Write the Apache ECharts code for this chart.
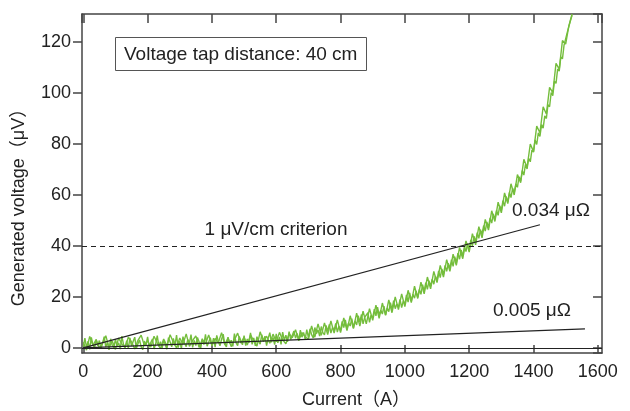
<!DOCTYPE html>
<html>
<head>
<meta charset="utf-8">
<script src="https://cdn.jsdelivr.net/npm/echarts@6/dist/echarts.min.js"></script>
<style>
  html, body { margin: 0; padding: 0; background: #fff; }
  #main { width: 630px; height: 411px; }
</style>
</head>
<body>
<div id="main"></div>
<script>
// measured voltage (uV), sweep 1: one reading every 5 A starting at 0 A
const stepA = 5;
const voltageA = [
  0.5, 3.8, 0.2, 2.6, -0.6, 4.1, 1.2, 0.0, 3.2, 0.8,
  2.9, -0.4, 1.8, 4.4, 0.3, 2.2, -0.8, 3.6, 1.0, 0.1,
  3.4, 0.6, 2.0, -0.5, 4.6, 1.4, 0.2, 2.8, -0.3, 3.9,
  0.7, 2.5, 4.2, -0.2, 1.6, 3.1, 0.4, -0.7, 2.7, 1.1,
  4.3, 0.2, 2.1, 3.5, -0.4, 1.5, 4.8, 0.6, 2.4, -0.1,
  3.0, 1.2, -0.5, 4.0, 2.3, 0.4, 3.7, 1.0, 5.0, 0.1,
  2.6, -0.3, 4.4, 1.8, 0.5, 3.3, 2.0, 5.2, 0.2, 2.9,
  0.9, 4.1, 2.4, -0.2, 3.6, 1.3, 5.3, 0.7, 2.2, 4.0,
  1.0, 3.8, 0.3, 4.9, 2.5, 0.8, 3.4, 5.4, 1.5, 0.4,
  4.2, 1.7, 3.0, 0.6, 5.6, 2.1, 0.9, 4.5, 2.8, 1.2,
  4.8, 0.9, 3.5, 2.0, 5.9, 1.4, 3.9, 0.8, 4.4, 2.6,
  1.5, 5.2, 2.7, 4.6, 0.9, 3.8, 6.0, 2.2, 4.1, 1.3,
  5.5, 2.0, 4.3, 1.4, 6.2, 3.0, 5.0, 2.4, 6.4, 3.3,
  2.6, 6.6, 3.8, 5.7, 2.9, 7.0, 4.2, 6.1, 3.4, 7.2,
  4.0, 7.5, 5.2, 3.9, 8.0, 5.6, 7.1, 4.6, 8.4, 6.0,
  5.1, 8.8, 6.5, 9.2, 5.8, 8.0, 6.9, 9.6, 6.2, 8.5,
  6.8, 10.4, 8.0, 11.0, 7.4, 9.8, 8.6, 11.5, 7.9, 10.6,
  9.0, 12.6, 10.2, 13.1, 9.4, 12.0, 11.3, 13.8, 10.0, 12.9,
  11.8, 15.2, 12.6, 16.0, 12.9, 14.8, 13.3, 16.4, 13.0, 15.6,
  14.2, 17.8, 15.0, 18.5, 15.4, 17.2, 16.0, 19.0, 15.8, 18.4,
  17.2, 20.8, 18.0, 21.6, 18.4, 21.0, 19.5, 22.4, 19.8, 23.0,
  21.0, 24.8, 22.2, 25.6, 23.0, 26.4, 24.2, 27.0, 25.0, 28.2,
  26.4, 30.2, 27.6, 31.0, 28.8, 32.4, 30.0, 33.2, 31.2, 34.6,
  32.0, 35.8, 33.4, 37.2, 34.8, 38.4, 36.0, 39.6, 37.8, 41.0,
  38.6, 42.4, 40.0, 43.8, 41.6, 45.2, 43.0, 46.4, 44.6, 48.0,
  45.8, 49.4, 47.2, 51.0, 49.0, 52.6, 50.4, 54.0, 52.0, 55.8,
  54.0, 57.8, 55.6, 59.4, 57.2, 61.0, 59.0, 62.6, 60.8, 64.4,
  63.0, 67.2, 65.4, 69.6, 67.8, 72.0, 70.2, 74.4, 73.0, 77.6,
  76.8, 81.6, 79.8, 84.4, 83.0, 87.6, 86.2, 91.0, 90.0, 95.4,
  94.6, 100.2, 99.0, 104.6, 103.8, 109.4, 108.6, 114.2, 113.4, 118.8,
  118.6, 123.8, 123.2, 128.4, 130.5
];

// sweep 2: one reading every 10 A starting at 0 A
const stepB = 10;
const voltageB = [
  2.2, -0.9, 4.5, 1.0, 3.3, -0.2, 2.0, 4.8, 0.1, 2.7,
  -0.6, 3.9, 1.5, 0.0, 4.2, 2.4, -0.4, 3.0, 5.0, 0.9,
  2.8, 0.3, 4.6, 1.9, -0.3, 3.5, 0.8, 5.2, 2.2, 0.0,
  3.9, 1.4, 5.5, 0.6, 2.9, 4.7, 0.2, 3.3, 1.6, 5.1,
  0.9, 3.7, 2.0, 6.0, 1.2, 4.0, 0.5, 3.1, 5.8, 1.9,
  4.2, 1.1, 5.1, 2.8, 0.7, 6.3, 2.5, 4.6, 1.8, 5.4,
  2.4, 6.1, 3.2, 1.6, 5.6, 4.0, 7.1, 2.9, 6.0, 4.4,
  3.4, 8.6, 4.2, 9.4, 4.9, 9.8, 5.2, 10.6, 5.8, 11.0,
  6.0, 11.8, 6.8, 12.6, 7.6, 13.6, 8.6, 14.4, 9.4, 15.4,
  10.8, 16.8, 11.6, 17.6, 12.8, 18.8, 13.8, 20.0, 15.0, 21.2,
  16.2, 22.6, 17.8, 24.2, 19.4, 25.8, 21.2, 27.8, 23.2, 30.0,
  25.6, 32.4, 27.8, 34.6, 30.0, 36.8, 32.4, 39.4, 35.0, 42.0,
  37.6, 44.8, 40.4, 47.6, 43.2, 50.4, 46.2, 53.8, 49.6, 57.2,
  53.0, 60.8, 56.6, 64.4, 60.0, 68.0, 64.8, 74.0, 70.8, 80.0,
  77.0, 87.0, 84.4, 94.6, 91.8, 102.2, 100.2, 111.6, 109.4, 120.6,
  119.2, 126.4, 131.0
];

// resistance fit lines [current, voltage]
const fit034 = [[0, 0], [1420, 48.3]];
const fit005 = [[0, 0], [1560, 7.5]];
const criterion = 40;

const xMin = -4, xMax = 1613;
const yMin = -2, yMax = 131;

const sweepA = voltageA.map((v, i) => [i * stepA, v]);
const sweepB = voltageB.map((v, i) => [i * stepB, v]);

const chart = echarts.init(document.getElementById('main'));
const font = 'Liberation Sans, Arial, Noto Sans CJK JP, sans-serif';
const axisColor = '#444';
const green = '#74bd3c';

const option = {
  backgroundColor: '#fff',
  animation: false,
  grid: { left: 82, right: 28, top: 14, bottom: 58 },
  title: {
    text: 'Voltage tap distance: 40 cm',
    left: 115, top: 37,
    padding: [8, 9, 7, 9],
    borderColor: '#555', borderWidth: 1,
    textStyle: { fontFamily: font, fontSize: 19, fontWeight: 'normal', color: '#222' }
  },
  xAxis: [
    {
      type: 'value', min: xMin, max: xMax, splitNumber: 8,
      axisLine: { show: true, onZero: false, lineStyle: { color: axisColor, width: 1.5 } },
      axisTick: { inside: true, length: 8, lineStyle: { color: axisColor, width: 1.5 } },
      axisLabel: { showMinLabel: false, showMaxLabel: false, margin: 10,
        formatter: v => String(v),
        fontFamily: font, fontSize: 18, color: '#222' },
      splitLine: { show: false }
    },
    {
      type: 'value', position: 'top', min: xMin, max: xMax, splitNumber: 8,
      axisLine: { show: true, onZero: false, lineStyle: { color: axisColor, width: 1.5 } },
      axisTick: { inside: true, length: 9, lineStyle: { color: axisColor, width: 1.5 } },
      axisLabel: { show: false },
      splitLine: { show: false }
    }
  ],
  yAxis: [
    {
      type: 'value', min: yMin, max: yMax, splitNumber: 7,
      axisLine: { show: true, onZero: false, lineStyle: { color: axisColor, width: 1.5 } },
      axisTick: { inside: false, length: 9, lineStyle: { color: axisColor, width: 1.5 } },
      axisLabel: { showMinLabel: false, showMaxLabel: false, margin: 11,
        fontFamily: font, fontSize: 18, color: '#222' },
      splitLine: { show: false }
    },
    {
      type: 'value', position: 'right', min: yMin, max: yMax, splitNumber: 7,
      axisLine: { show: true, onZero: false, lineStyle: { color: axisColor, width: 1.5 } },
      axisTick: { inside: true, length: 9, lineStyle: { color: axisColor, width: 1.5 } },
      axisLabel: { show: false },
      splitLine: { show: false }
    }
  ],
  graphic: [
    { type: 'text', x: 19, y: 203, rotation: Math.PI / 2,
      style: { text: 'Generated voltage（μV）', align: 'center', verticalAlign: 'middle',
        font: '18px ' + font, fill: '#222' } },
    { type: 'text', x: 356, y: 400,
      style: { text: 'Current（A）', align: 'center', verticalAlign: 'middle',
        font: '18px ' + font, fill: '#222' } },
    { type: 'text', x: 276, y: 230,
      style: { text: '1 μV/cm criterion', align: 'center', verticalAlign: 'middle',
        font: '19px ' + font, fill: '#222' } },
    { type: 'text', x: 551, y: 211,
      style: { text: '0.034 μΩ', align: 'center', verticalAlign: 'middle',
        font: '19px ' + font, fill: '#222' } },
    { type: 'text', x: 532, y: 311,
      style: { text: '0.005 μΩ', align: 'center', verticalAlign: 'middle',
        font: '19px ' + font, fill: '#222' } }
  ],
  series: [
    {
      type: 'line', data: sweepA, showSymbol: false, sampling: null,
      lineStyle: { color: green, width: 1.4 }, clip: true, z: 2,
      markLine: {
        silent: true, symbol: 'none', label: { show: false },
        data: [
          { yAxis: 0, lineStyle: { color: '#222', width: 1, type: 'solid' } },
          { yAxis: criterion, lineStyle: { color: '#222', width: 1, type: [5, 4] } }
        ]
      }
    },
    {
      type: 'line', data: sweepB, showSymbol: false, sampling: null,
      lineStyle: { color: green, width: 1.4 }, clip: true, z: 2
    },
    {
      type: 'line', data: fit034, showSymbol: false, z: 3,
      lineStyle: { color: '#222', width: 1.2 }
    },
    {
      type: 'line', data: fit005, showSymbol: false, z: 3,
      lineStyle: { color: '#222', width: 1.2 }
    }
  ]
};

chart.setOption(option);
</script>
</body>
</html>
